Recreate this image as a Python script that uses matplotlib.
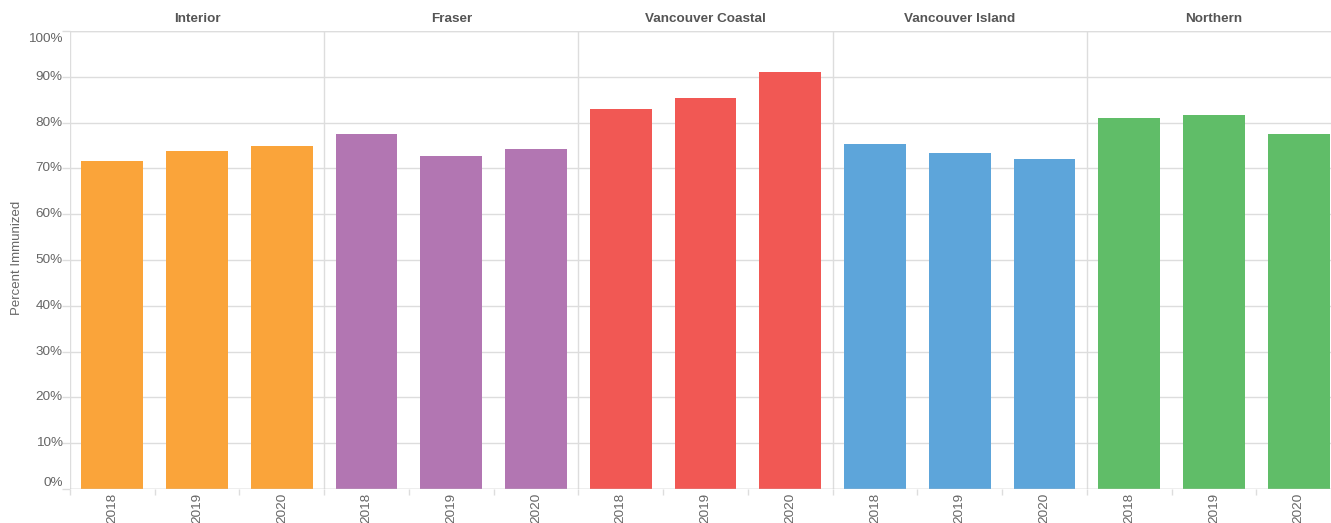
import matplotlib
matplotlib.use("Agg")
import matplotlib.pyplot as plt
from matplotlib.transforms import blended_transform_factory

plt.rcParams['font.family'] = ['Liberation Sans', 'DejaVu Sans']

regions = ["Interior", "Fraser", "Vancouver Coastal", "Vancouver Island", "Northern"]
years = ["2018", "2019", "2020"]
interior = [71.6, 73.8, 74.9]
fraser = [77.5, 72.7, 74.2]
vancouver_coastal = [83.0, 85.4, 91.0]
vancouver_island = [75.3, 73.4, 72.1]
northern = [81.0, 81.7, 77.5]
values = [interior, fraser, vancouver_coastal, vancouver_island, northern]
colors = ["#FAA43A", "#B276B2", "#F15854", "#5DA5DA", "#60BD68"]
yticks = [0, 10, 20, 30, 40, 50, 60, 70, 80, 90, 100]

W, H = 1331, 523
fig = plt.figure(figsize=(W / 100, H / 100), dpi=100)
left_px, right_px, top_px, bot_px = 70, 1341, 31, 489
ax = fig.add_axes([left_px / W, 1 - bot_px / H, (right_px - left_px) / W, (bot_px - top_px) / H])

n = len(years)
grid_c = "#dddddd"
text_c = "#666666"

for i, (vals, col) in enumerate(zip(values, colors)):
    xs = [i * n + j + 0.5 for j in range(n)]
    ax.bar(xs, vals, width=0.73, color=col, zorder=3)

total = n * len(regions)
ax.set_xlim(0, total)
ax.set_ylim(0, 100)

# horizontal gridlines
for t in yticks:
    ax.axhline(t, color=grid_c, lw=1, zorder=1)
# panel borders
for i in range(len(regions) + 1):
    ax.axvline(i * n, color=grid_c, lw=1, zorder=2)
ax.axhline(100, color=grid_c, lw=1, zorder=2)
ax.axhline(0, color="#c8c8c8", lw=1, zorder=4)

for s in ax.spines.values():
    s.set_visible(False)

# y ticks
ax.set_yticks(yticks)
ax.set_yticklabels([])
ax.tick_params(axis='y', length=6, color=grid_c, width=1)
trans_y = blended_transform_factory(ax.transAxes, ax.transData)
for t in yticks:
    va = 'center'
    dy = 0
    if t == 0:
        va = 'bottom'
    elif t == 100:
        va = 'top'
        dy = -1.5
    ax.annotate(f"{t}%", xy=(0, t), xycoords=trans_y, xytext=(-5.2, dy),
                textcoords='offset points', ha='right', va=va,
                fontsize=9.7, color=text_c)

# x ticks at band boundaries, labels at centres
ax.set_xticks(range(total + 1))
ax.set_xticklabels([])
ax.tick_params(axis='x', length=4, color=grid_c, width=1, pad=2)
trans_x = blended_transform_factory(ax.transData, ax.transAxes)
for i in range(len(regions)):
    for j, yr in enumerate(years):
        ax.annotate(yr, xy=(i * n + j + 0.5, 0), xycoords=trans_x, xytext=(0, -3),
                    textcoords='offset points', ha='center', va='top',
                    rotation=90, fontsize=9.7, color=text_c)

# facet titles
for i, r in enumerate(regions):
    ax.annotate(r, xy=(i * n + n / 2, 1), xycoords=trans_x, xytext=(0, 9),
                textcoords='offset points', ha='center', va='center',
                fontsize=9.7, fontweight='bold', color="#555555")

fig.text(17 / W, 1 - 258 / H, "Percent Immunized", rotation=90, ha='center',
         va='center', fontsize=9.5, color=text_c)

fig.savefig("out.png", dpi=100)
